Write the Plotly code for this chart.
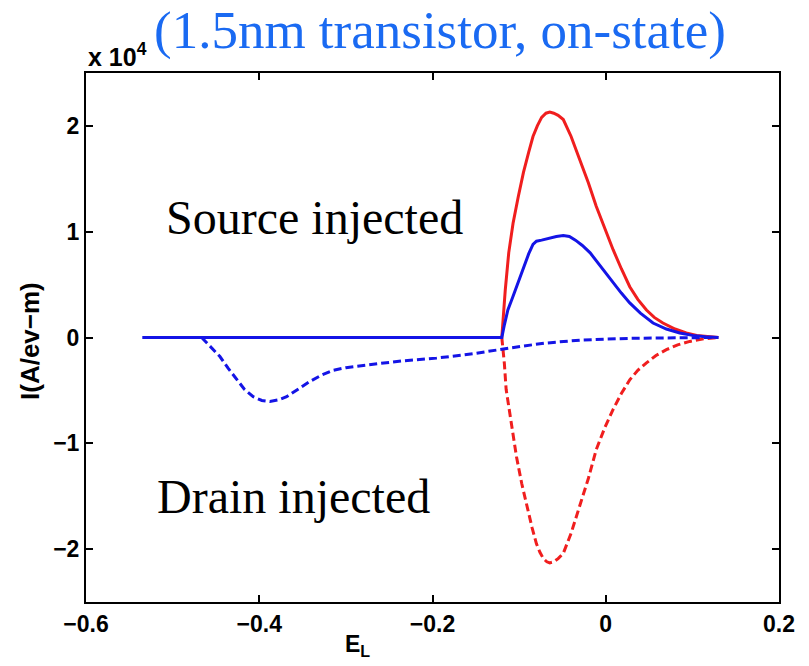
import plotly.graph_objects as go

# Energy E_L (eV) and current I (units of 1e4 A/eV-m)
E_src_blue = [-0.535, -0.12, -0.117, -0.113, -0.107, -0.101, -0.095, -0.089, -0.084, -0.080, -0.074, -0.065,
              -0.057, -0.049, -0.042, -0.035, -0.027, -0.018, -0.005, 0.0085, 0.018, 0.0277, 0.040, 0.0546,
              0.070, 0.0854, 0.10, 0.115, 0.13]
I_src_blue = [0, 0, 0.12, 0.26, 0.39, 0.53, 0.67, 0.79, 0.88, 0.91, 0.92, 0.94,
              0.955, 0.964, 0.955, 0.92, 0.87, 0.80, 0.66, 0.516, 0.42, 0.327, 0.23, 0.137,
              0.08, 0.043, 0.02, 0.008, 0]

E_src_red = [-0.12, -0.116, -0.112, -0.107, -0.101, -0.095, -0.089, -0.084, -0.079, -0.074, -0.069, -0.0646,
             -0.060, -0.055, -0.049, -0.040, -0.030, -0.020, -0.011, -0.001, 0.0085, 0.018, 0.0277, 0.037,
             0.047, 0.056, 0.066, 0.080, 0.093, 0.105, 0.115, 0.13]
I_src_red = [0, 0.45, 0.80, 1.08, 1.33, 1.56, 1.75, 1.90, 2.00, 2.08, 2.12, 2.13,
             2.12, 2.10, 2.06, 1.90, 1.68, 1.46, 1.24, 1.02, 0.83, 0.65, 0.48, 0.36,
             0.26, 0.19, 0.137, 0.08, 0.043, 0.02, 0.01, 0]

E_drn_red = [-0.12, -0.117, -0.115, -0.109, -0.103, -0.097, -0.091, -0.085, -0.080, -0.076, -0.072, -0.068,
             -0.0646, -0.060, -0.055, -0.049, -0.040, -0.030, -0.020, -0.011, -0.001, 0.0085, 0.018, 0.0277,
             0.037, 0.047, 0.058, 0.070, 0.083, 0.097, 0.113, 0.13]
I_drn_red = [0, -0.25, -0.49, -0.82, -1.13, -1.38, -1.60, -1.80, -1.95, -2.03, -2.09, -2.12,
             -2.13, -2.12, -2.09, -2.04, -1.85, -1.60, -1.33, -1.06, -0.85, -0.68, -0.53, -0.40,
             -0.31, -0.24, -0.17, -0.115, -0.07, -0.037, -0.012, 0]

E_drn_blue = [-0.4665, -0.456, -0.4454, -0.436, -0.426, -0.417, -0.407, -0.397, -0.3877, -0.378, -0.3684,
              -0.355, -0.3415, -0.328, -0.3146, -0.300, -0.2838, -0.260, -0.2338, -0.1953, -0.153, -0.12,
              -0.095, -0.0684, -0.045, -0.030, 0.0, 0.0277, 0.08, 0.13]
I_drn_blue = [0, -0.09, -0.18, -0.29, -0.40, -0.49, -0.56, -0.595, -0.605, -0.59, -0.56,
              -0.49, -0.415, -0.355, -0.31, -0.285, -0.267, -0.245, -0.22, -0.195, -0.153, -0.11,
              -0.08, -0.052, -0.035, -0.025, -0.015, -0.008, -0.003, 0]

x_ticks = [-0.6, -0.4, -0.2, 0, 0.2]
x_ticklabels = ["\u22120.6", "\u22120.4", "\u22120.2", "0", "0.2"]
y_ticks = [-2, -1, 0, 1, 2]
y_ticklabels = ["\u22122", "\u22121", "0", "1", "2"]

RED = "#f01e1e"
BLUE = "#1414e6"

fig = go.Figure()
fig.add_trace(go.Scatter(x=E_src_red, y=I_src_red, mode="lines",
                         line=dict(color=RED, width=3)))
fig.add_trace(go.Scatter(x=E_drn_red, y=I_drn_red, mode="lines",
                         line=dict(color=RED, width=3, dash="8px,4px")))
fig.add_trace(go.Scatter(x=E_drn_blue, y=I_drn_blue, mode="lines",
                         line=dict(color=BLUE, width=3, dash="8px,4px")))
fig.add_trace(go.Scatter(x=E_src_blue, y=I_src_blue, mode="lines",
                         line=dict(color=BLUE, width=3)))

axis_common = dict(showgrid=False, zeroline=False, showline=True, linecolor="black", linewidth=2,
                   mirror="ticks", ticks="inside", ticklen=7, tickwidth=2, tickcolor="black",
                   tickfont=dict(family="Liberation Sans, Arial", size=23, color="black", weight="bold"))

fig.update_xaxes(range=[-0.6, 0.2], tickvals=x_ticks, ticktext=x_ticklabels, **axis_common)
fig.update_yaxes(range=[-2.5, 2.5], tickvals=y_ticks, ticktext=y_ticklabels, **axis_common)

fig.update_layout(
    width=809, height=666,
    margin=dict(l=86, r=30, t=73, b=64),
    plot_bgcolor="white", paper_bgcolor="white",
    showlegend=False,
    annotations=[
        dict(text="(1.5nm transistor, on-state)", xref="paper", yref="paper",
             x=(152 - 86) / 693, y=(602 - 31) / 529, xanchor="left", yanchor="middle",
             showarrow=False, font=dict(family="Liberation Serif, Times New Roman", size=53, color="#1a6af2")),
        dict(text="x 10<sup>4</sup>", xref="paper", yref="paper",
             x=(86 - 86) / 693, y=(602 - 55) / 529, xanchor="left", yanchor="middle",
             showarrow=False, font=dict(family="Liberation Sans, Arial", size=25, color="black", weight="bold")),
        dict(text="Source injected", x=-0.3357, y=1.134, xanchor="center", yanchor="middle",
             showarrow=False, font=dict(family="Liberation Serif, Times New Roman", size=48, color="black")),
        dict(text="Drain injected", x=-0.3608, y=-1.505, xanchor="center", yanchor="middle",
             showarrow=False, font=dict(family="Liberation Serif, Times New Roman", size=48, color="black")),
        dict(text="E<sub>L</sub>", xref="paper", yref="paper",
             x=(343 - 86) / 693, y=(602 - 645) / 529, xanchor="left", yanchor="middle",
             showarrow=False, font=dict(family="Liberation Sans, Arial", size=23, color="black", weight="bold")),
        dict(text="I(A/ev\u2212m)", xref="paper", yref="paper",
             x=(30 - 86) / 693, y=(602 - 341) / 529, xanchor="center", yanchor="middle", textangle=-90,
             showarrow=False, font=dict(family="Liberation Sans, Arial", size=26, color="black", weight="bold")),
    ],
)

fig.write_html("out.html")
